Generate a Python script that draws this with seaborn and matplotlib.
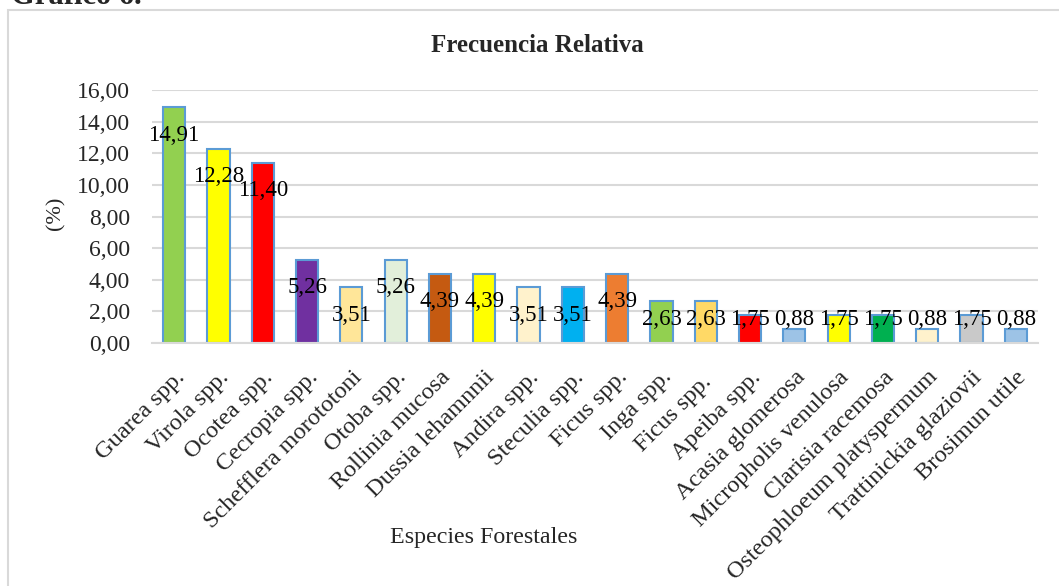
import matplotlib
matplotlib.use("Agg")
import matplotlib.pyplot as plt
import seaborn as sns
import pandas as pd
from matplotlib.patches import Rectangle

especies = [
    "Guarea spp.", "Virola spp.", "Ocotea spp.", "Cecropia spp.",
    "Schefflera morototoni", "Otoba spp.", "Rollinia mucosa", "Dussia lehamnnii",
    "Andira spp.", "Steculia spp.", "Ficus spp.", "Inga spp.", "Ficus spp. ",
    "Apeiba spp.", "Acasia glomerosa", "Micropholis venulosa", "Clarisia racemosa",
    "Osteophloeum platyspermum", "Trattinickia glaziovii", "Brosimun utile",
]
frecuencia = [
    14.91, 12.28, 11.40, 5.26, 3.51, 5.26, 4.39, 4.39, 3.51, 3.51,
    4.39, 2.63, 2.63, 1.75, 0.88, 1.75, 1.75, 0.88, 1.75, 0.88,
]
colores = [
    "#92D050", "#FFFF00", "#FF0000", "#7030A0", "#FFE699", "#E2EFDA",
    "#C55A11", "#FFFF00", "#FFF2CC", "#00B0F0", "#ED7D31", "#92D050",
    "#FFD966", "#FF0000", "#9DC3E6", "#FFFF00", "#00B050", "#FFF2CC",
    "#C9C9C9", "#9DC3E6",
]
yticks = [0, 2, 4, 6, 8, 10, 12, 14, 16]

df = pd.DataFrame({"especie": especies, "frecuencia": frecuencia})

sns.set_theme(style="white")
plt.rcParams["font.family"] = ["Liberation Serif", "DejaVu Serif"]

fig = plt.figure(figsize=(10.59, 5.86), dpi=100)
ax = fig.add_axes([152 / 1059, 1 - 343 / 586, (1038 - 152) / 1059, (343 - 90) / 586])

sns.barplot(data=df, x="especie", y="frecuencia", hue="especie",
            palette=colores, legend=False, width=0.5, ax=ax,
            edgecolor="#5B9BD5", linewidth=1.5, saturation=1)

ax.set_ylim(0, 16)
ax.set_xlim(-0.5, len(especies) - 0.5)
ax.set_yticks(yticks)
ax.set_yticklabels([f"{v:.2f}".replace(".", ",") for v in yticks], fontsize=17)
ax.yaxis.grid(True, color="#D9D9D9", linewidth=1.5)
ax.set_axisbelow(True)
for side in ["left", "right", "top"]:
    ax.spines[side].set_visible(False)
ax.spines["bottom"].set_color("#D9D9D9")
ax.spines["bottom"].set_linewidth(1.5)
ax.tick_params(axis="y", length=0, pad=16)
ax.set_xticks(range(len(especies)))
ax.set_xticklabels(especies, rotation=45, ha="right", rotation_mode="anchor",
                   fontsize=17.5)
ax.tick_params(axis="x", length=0, pad=17)
ax.set_xlabel("")
ax.set_ylabel("(%)", fontsize=16)
ax.yaxis.set_label_coords(-0.098, 0.514)

# value labels near the top inside end of each bar
for i, v in enumerate(frecuencia):
    ypos = max(v - 1.78, 1.5)
    ax.text(i, ypos, f"{v:.2f}".replace(".", ","), ha="center", va="center",
            fontsize=16.5, color="black")

fig.text(537 / 1059, 1 - 46 / 586, "Frecuencia Relativa", ha="center",
         va="center", fontsize=18, fontweight="bold")
fig.text(484 / 1059, 1 - 537 / 586, "Especies Forestales", ha="center",
         va="center", fontsize=17.3)
fig.text(11 / 1059, 1 - 4 / 586, "Gráfico 6.", ha="left", va="baseline",
         fontsize=22, fontweight="bold")

fig.add_artist(Rectangle((8 / 1059, -0.05), 1.1, 1 - 10 / 586 + 0.05,
                         transform=fig.transFigure, fill=False,
                         edgecolor="#D9D9D9", linewidth=1.5))

fig.savefig("out.png", dpi=100)
